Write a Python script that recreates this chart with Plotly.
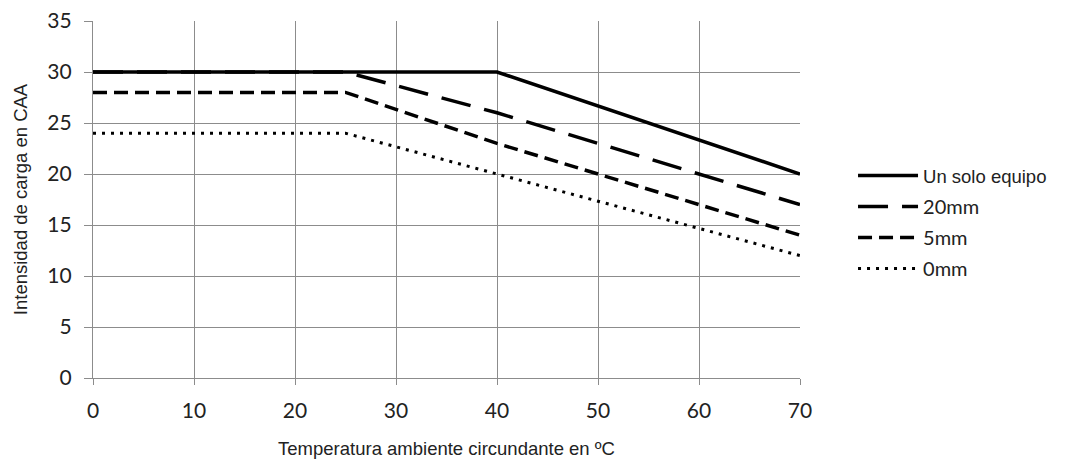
import plotly.graph_objects as go

temps_solo = [0, 40, 70]
vals_solo = [30, 30, 20]
temps_20 = [0, 25, 40, 70]
vals_20 = [30, 30, 26, 17]
temps_5 = [0, 25, 40, 70]
vals_5 = [28, 28, 23, 14]
temps_0 = [0, 25, 40, 70]
vals_0 = [24, 24, 20, 12]

x_ticks = [0, 10, 20, 30, 40, 50, 60, 70]
y_ticks = [0, 5, 10, 15, 20, 25, 30, 35]

names = ["Un solo equipo", "20mm", "5mm", "0mm"]

fig = go.Figure()
fig.add_trace(go.Scatter(x=temps_solo, y=vals_solo, mode="lines",
                         name="<span style='font-family:Liberation Sans;font-size:18.5px'>" + names[0] + "</span>",
                         legendgroup="a",
                         line=dict(color="black", width=3.5)))
fig.add_trace(go.Scatter(x=temps_20, y=vals_20, mode="lines", name=names[1], legendgroup="b",
                         line=dict(color="black", width=3.5, dash="30px,14px")))
fig.add_trace(go.Scatter(x=temps_5, y=vals_5, mode="lines", name=names[2], legendgroup="c",
                         line=dict(color="black", width=3.5, dash="14px,7px")))
fig.add_trace(go.Scatter(x=temps_0, y=vals_0, mode="lines", name=names[3], legendgroup="d",
                         line=dict(color="black", width=3, dash="3px,6px")))

grid = "#8c8c8c"
fig.update_layout(
    width=1068, height=464,
    margin=dict(l=85, r=276, t=13, b=94),
    plot_bgcolor="white", paper_bgcolor="white",
    font=dict(family="Lato, Liberation Sans", color="#222"),
    showlegend=True,
    legend=dict(x=1.075, xanchor="left", y=0.622, yanchor="top",
                font=dict(size=20, family="Lato"), tracegroupgap=2,
                itemwidth=60, bgcolor="rgba(0,0,0,0)"),
    xaxis=dict(range=[0, 70], tickvals=x_ticks, showgrid=True, gridcolor=grid, gridwidth=1.3,
               showline=True, linecolor=grid, linewidth=1.3, ticks="outside", ticklen=6,
               tickcolor=grid, zeroline=False, tickfont=dict(size=21, family="Lato"),
               ticklabelstandoff=8, automargin=False, ticklabeloverflow="allow",
               title=dict(text="Temperatura ambiente circundante en ºC",
                          font=dict(size=18.5, family="Liberation Sans"), standoff=20)),
    yaxis=dict(range=[0, 35], tickvals=y_ticks, showgrid=True, gridcolor=grid, gridwidth=1.3,
               showline=True, linecolor=grid, linewidth=1.3, ticks="outside", ticklen=8,
               tickcolor=grid, zeroline=False, tickfont=dict(size=21, family="Lato"),
               ticklabelstandoff=8, automargin=False, ticklabeloverflow="allow",
               title=dict(text="Intensidad de carga en CAA",
                          font=dict(size=18.5, family="Liberation Sans"), standoff=14)),
)
fig.write_html("out.html")
